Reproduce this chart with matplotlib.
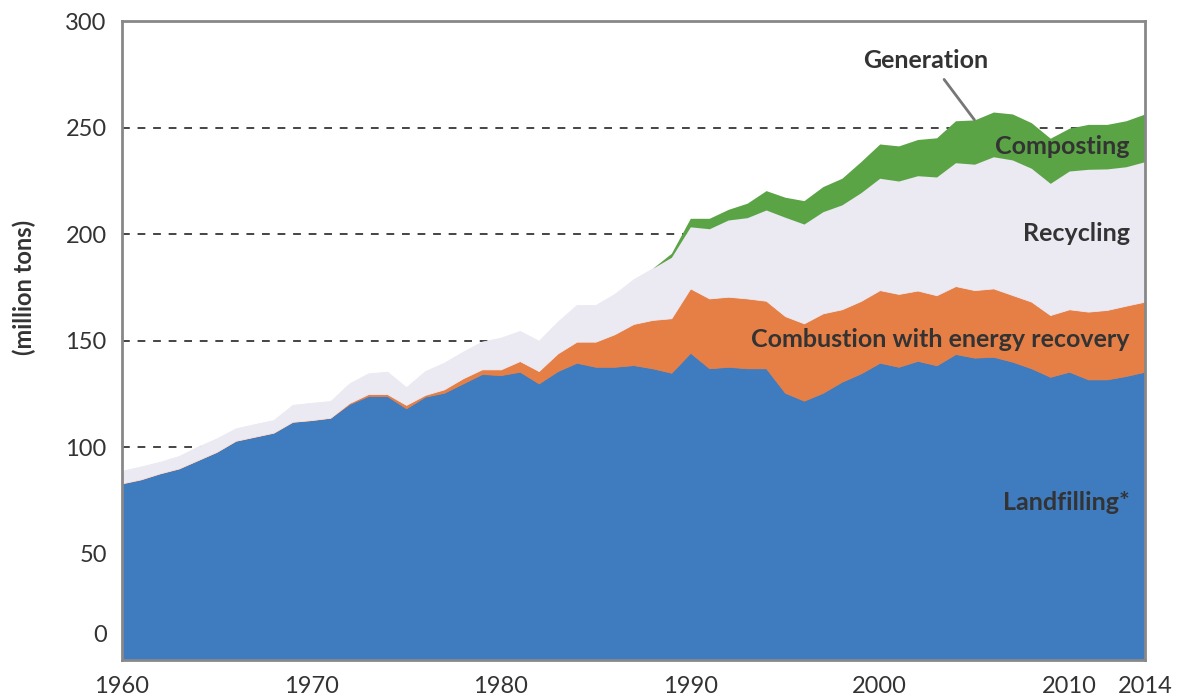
import matplotlib
matplotlib.use("Agg")
import matplotlib.pyplot as plt
from matplotlib.transforms import ScaledTranslation

plt.rcParams['font.family'] = ['Lato', 'DejaVu Sans']

# data (million tons)
years = list(range(1960, 2015))

landfilling = [83.1, 85.0, 87.8, 90.1, 94.0, 97.9, 103.1, 105.0, 106.9, 112.0,
               112.8, 113.9, 120.3, 124.1, 124.1, 118.3, 123.8, 125.6, 130.0, 134.4,
               133.9, 135.5, 130.0, 135.8, 139.7, 137.8, 137.8, 138.6, 137.1, 135.0,
               144.4, 137.1, 137.8, 137.1, 137.1, 125.6, 121.9, 125.6, 130.8, 134.7,
               139.7, 137.8, 140.6, 138.5, 143.8, 142.1, 142.5, 140.2, 137.1, 133.1,
               135.5, 131.9, 131.9, 133.5, 135.5]

combustion = [0.0, 0.0, 0.0, 0.0, 0.0, 0.0, 0.0, 0.0, 0.0, 0.0,
              0.0, 0.0, 0.5, 0.9, 0.9, 1.6, 0.8, 1.6, 2.4, 2.2,
              2.7, 5.0, 5.8, 8.3, 9.9, 11.8, 15.3, 19.3, 22.7, 25.6,
              30.2, 32.8, 32.9, 32.8, 31.7, 36.0, 36.3, 37.3, 34.0, 34.0,
              34.1, 34.2, 33.0, 32.9, 31.9, 31.7, 32.1, 31.3, 31.3, 29.0,
              29.3, 31.8, 32.6, 33.0, 32.9]

recycling = [5.9, 6.0, 5.4, 5.8, 6.3, 6.3, 5.8, 5.9, 5.9, 7.9,
             8.1, 7.8, 9.2, 9.7, 10.5, 8.3, 11.2, 12.5, 12.5, 13.0,
             14.9, 14.1, 14.2, 14.9, 17.2, 17.2, 18.9, 21.0, 24.2, 28.6,
             28.9, 32.7, 36.0, 37.9, 42.6, 46.4, 46.6, 47.7, 49.0, 50.8,
             52.5, 53.0, 53.9, 55.5, 57.9, 59.1, 61.8, 63.4, 62.6, 61.8,
             64.9, 66.8, 66.2, 65.2, 65.7]

composting = [0.0] * 29 + [1.9,
              4.0, 4.9, 5.0, 6.8, 9.1, 9.4, 11.0, 11.8, 12.5, 14.6,
              16.1, 16.5, 17.0, 18.4, 19.7, 20.8, 21.0, 21.6, 21.4, 21.2,
              20.1, 21.1, 20.9, 21.6, 22.4]

xticks = [1960, 1970, 1980, 1990, 2000, 2010, 2014]
yticks = [0, 50, 100, 150, 200, 250, 300]
grid_levels = [100, 150, 200, 250]

colors = ['#3e7bbf', '#e67f45', '#ebe9f2', '#5ba446']
text_color = '#333333'

fig = plt.figure(figsize=(11.8, 7), dpi=100)
ax = fig.add_axes([0.1034, 0.0567, 0.8669, 0.9129])

polys = ax.stackplot(years, landfilling, combustion, recycling, composting,
                     colors=colors, linewidth=0.6, zorder=2)
for p, c in zip(polys, colors):
    p.set_edgecolor(c)
# no edge on the top layer, otherwise a green hairline shows where composting is zero
polys[3].set_linewidth(0)

# dashed reference lines sit behind the areas
for lvl in grid_levels:
    ax.axhline(lvl, color='#444444', linestyle=(0, (4, 4)), linewidth=1.4, zorder=1)

ax.set_xlim(1960, 2014)
ax.set_ylim(0, 300)
ax.set_xticks(xticks)
ax.set_yticks(yticks)
ax.tick_params(length=0, labelsize=17, colors=text_color, pad=11)

# the zero label sits a bit higher in the original
ylabels = ax.get_yticklabels()
ylabels[0].set_transform(ylabels[0].get_transform() + ScaledTranslation(0, 0.27, fig.dpi_scale_trans))

for s in ax.spines.values():
    s.set_color('#888888')
    s.set_linewidth(2)

fig.text(0.021, 0.59, '(million tons)', rotation=90, ha='center', va='center',
         fontsize=17, fontweight='bold', color=text_color)

generation = [a + b + c + d for a, b, c, d in zip(landfilling, combustion, recycling, composting)]
i05 = years.index(2005)
ax.annotate('Generation', xy=(2005, generation[i05]), xytext=(2002.45, 281.5),
            ha='center', va='center', fontsize=18, fontweight='bold', color=text_color,
            arrowprops=dict(arrowstyle='-', color='#777777', lw=2, relpos=(0.6, 0),
                            shrinkA=4, shrinkB=0), zorder=5)

lbl = dict(ha='right', va='center', fontsize=18, fontweight='bold', color=text_color, zorder=5)
ax.text(2013.2, 241.0, 'Composting', **lbl)
ax.text(2013.2, 200.6, 'Recycling', **lbl)
ax.text(2013.2, 150.5, 'Combustion with energy recovery', **lbl)
ax.text(2013.2, 74.3, 'Landfilling*', **lbl)

fig.savefig('out.png', dpi=100)
